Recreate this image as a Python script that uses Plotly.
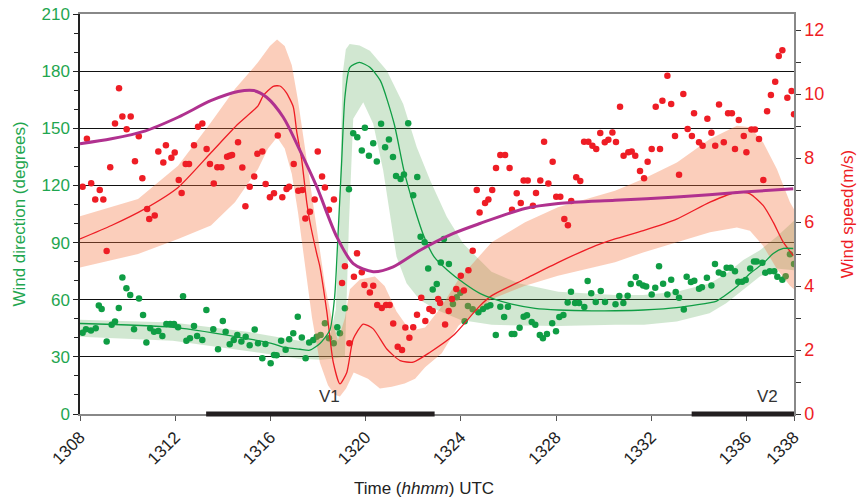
import plotly.graph_objects as go

# ---------------- data ----------------
# observed wind direction (degrees) vs time (hhmm, fractional minutes)
dir_t = [1308.11,1308.25,1308.46,1308.66,1308.79,1308.91,1309.12,1309.33,1309.47,1309.63,
         1309.78,1309.95,1310.11,1310.27,1310.48,1310.65,1310.79,1310.95,1311.11,1311.29,
         1311.46,1311.63,1311.79,1311.95,1312.12,1312.33,1312.47,1312.62,1312.79,1312.92,
         1313.14,1313.31,1313.60,1313.80,1314.00,1314.12,1314.29,1314.46,1314.61,1314.78,
         1314.96,1315.13,1315.34,1315.48,1315.66,1315.79,1316.01,1316.15,1316.26,1316.45,
         1316.64,1316.79,1316.96,1317.15,1317.32,1317.48,1317.63,1317.80,1317.95,1318.11,
         1318.29,1318.46,1318.66,1318.81,1318.92,1319.13,1319.30,1319.48,1319.65,1319.84,
         1319.97,1320.14,1320.32,1320.47,1320.65,1320.82,1320.98,1321.15,1321.28,1321.47,
         1321.61,1321.79,1322.00,1322.17,1322.31,1322.48,1322.63,1322.82,1322.99,1323.16,
         1323.29,1323.50,1323.67,1323.83,1323.98,1324.16,1324.30,1324.50,1324.74,1324.93,
         1325.10,1325.24,1325.47,1325.66,1325.82,1325.98,1326.14,1326.25,1326.47,1326.64,
         1326.78,1326.98,1327.13,1327.32,1327.45,1327.62,1327.84,1328.00,1328.14,1328.31,
         1328.49,1328.63,1328.80,1328.97,1329.19,1329.33,1329.48,1329.67,1329.88,1330.06,
         1330.50,1330.66,1330.83,1331.01,1331.14,1331.35,1331.50,1331.66,1331.79,1332.02,
         1332.17,1332.33,1332.50,1332.68,1332.84,1333.03,1333.17,1333.37,1333.49,1333.67,
         1333.81,1334.01,1334.13,1334.34,1334.53,1334.68,1334.84,1335.02,1335.17,1335.34,
         1335.52,1335.66,1335.82,1335.97,1336.16,1336.32,1336.43,1336.67,1336.79,1336.98,
         1337.17,1337.30,1337.51,1337.65,1337.83,1338.00]
dir_obs = [42.7,44.5,43.8,45.0,56.9,55.1,38.0,46.8,48.5,55.7,
           71.7,66.0,62.5,44.5,60.7,52.0,37.5,45.0,43.2,43.6,
           41.0,47.3,47.3,47.3,45.5,61.8,38.5,39.8,46.2,41.0,
           38.9,54.6,44.5,34.0,48.8,43.2,36.6,38.9,41.5,38.0,
           40.6,36.1,44.3,37.2,29.3,36.8,26.7,31.0,30.9,38.5,
           33.7,39.3,42.4,51.1,40.1,29.3,37.5,38.9,40.6,41.5,
           47.6,39.8,37.2,45.5,42.4,55.5,118.0,147.4,145.3,138.4,
           150.3,135.6,142.2,132.5,152.4,140.1,144.1,134.9,124.9,123.4,
           125.8,152.7,114.8,124.4,93.0,90.2,76.4,65.4,68.2,79.6,
           91.9,78.7,57.7,61.3,63.7,48.7,56.7,55.0,53.4,55.1,
           56.5,57.1,41.5,56.3,50.9,56.3,42.0,42.0,45.3,51.1,
           51.8,48.3,46.9,41.5,39.8,42.0,47.6,43.5,50.9,52.0,
           58.6,64.2,58.3,58.3,56.2,69.8,63.4,58.8,64.6,58.8,
           57.6,61.9,58.3,62.1,68.2,71.9,68.6,67.5,67.0,62.8,
           66.3,77.6,68.4,62.8,70.5,64.0,61.0,54.8,72.0,69.3,
           69.9,65.8,66.5,71.5,67.5,78.8,74.3,73.5,76.8,76.8,
           74.9,69.4,69.4,70.3,76.4,80.1,80.1,79.4,74.1,74.9,
           74.9,72.0,70.5,72.3,83.9,78.7]

# observed wind speed (m/s)
spd_t = [1308.11,1308.29,1308.47,1308.64,1308.83,1308.98,1309.12,1309.27,1309.47,1309.64,
         1309.78,1309.96,1310.13,1310.31,1310.47,1310.62,1310.82,1310.91,1311.14,1311.29,
         1311.50,1311.61,1311.84,1311.98,1312.15,1312.27,1312.44,1312.58,1312.79,1312.96,
         1313.14,1313.32,1313.46,1313.62,1313.77,1313.94,1314.18,1314.29,1314.39,1314.64,
         1314.82,1314.95,1315.13,1315.32,1315.45,1315.66,1315.80,1315.98,1316.15,1316.31,
         1316.50,1316.68,1316.79,1316.98,1317.17,1317.34,1317.47,1317.66,1317.86,1317.99,
         1318.17,1318.29,1318.46,1318.67,1319.01,1319.13,1319.32,1319.51,1319.64,1319.84,
         1319.95,1320.18,1320.32,1320.49,1320.68,1320.86,1321.01,1321.16,1321.35,1321.53,
         1321.67,1321.84,1322.00,1322.16,1322.34,1322.51,1322.68,1322.82,1323.05,1323.13,
         1323.34,1323.49,1323.63,1323.81,1324.00,1324.13,1324.32,1324.50,1324.67,1324.79,
         1325.02,1325.16,1325.32,1325.48,1325.66,1325.86,1326.05,1326.15,1326.35,1326.52,
         1326.64,1326.81,1327.03,1327.16,1327.34,1327.50,1327.68,1327.86,1328.01,1328.18,
         1328.35,1328.50,1328.64,1328.85,1329.02,1329.18,1329.36,1329.53,1329.69,1329.86,
         1330.05,1330.20,1330.37,1330.52,1330.69,1330.84,1331.04,1331.18,1331.33,1331.53,
         1331.70,1331.85,1332.02,1332.19,1332.37,1332.47,1332.68,1332.84,1333.00,1333.17,
         1333.35,1333.53,1333.71,1333.80,1334.01,1334.16,1334.36,1334.53,1334.69,1334.85,
         1335.05,1335.23,1335.39,1335.52,1335.68,1335.89,1336.00,1336.21,1336.36,1336.53,
         1336.71,1336.87,1337.03,1337.21,1337.36,1337.51,1337.72,1337.90,1338.00]
spd_obs = [7.10,8.60,7.21,6.70,7.00,6.70,5.09,7.71,9.08,10.18,
           9.30,8.90,9.30,7.90,8.68,7.37,6.41,6.09,6.20,8.20,
           7.86,8.40,8.01,8.17,7.31,6.91,7.81,7.81,8.40,8.98,
           9.08,8.28,7.81,7.20,7.71,7.71,8.04,8.07,8.09,8.49,
           7.70,6.49,7.10,7.42,8.13,8.20,7.19,6.77,6.90,8.70,
           6.77,7.03,7.10,7.81,6.98,7.00,6.11,6.32,6.70,8.20,
           7.42,7.08,6.38,6.70,4.09,4.62,2.21,4.29,5.02,4.43,
           4.03,3.80,4.01,3.41,3.31,3.41,3.41,2.83,2.10,2.00,
           2.70,2.38,2.71,3.10,3.63,2.91,3.28,3.22,3.59,3.47,
           2.80,3.22,3.59,3.91,4.32,3.86,4.49,5.10,7.00,6.30,
           6.59,6.70,7.00,7.69,8.09,8.09,7.69,6.38,6.90,6.59,
           7.30,7.30,6.51,6.91,7.30,8.51,7.20,7.88,6.79,6.79,
           6.09,5.90,6.66,7.40,7.28,8.51,8.51,8.38,8.28,8.78,
           8.49,8.57,8.80,8.50,9.60,8.07,8.18,8.20,8.07,7.59,
           7.37,7.88,8.28,9.60,8.28,9.79,10.57,9.69,8.69,7.48,
           10.00,8.91,8.69,9.40,8.49,8.38,9.23,8.79,8.38,9.67,
           8.49,9.40,9.40,8.28,9.19,8.69,8.18,8.89,8.89,8.59,
           7.31,9.46,9.97,10.38,11.19,11.37,9.88,10.09,9.37]

# modelled wind direction (degrees) and its uncertainty band
dir_fit_t = [1308.0,1311.91,1315.14,1316.19,1316.53,1317.24,1317.66,1318.08,1318.5,1318.7,
             1318.85,1318.99,1319.13,1319.34,1319.74,1320.18,1320.62,1321.2,1321.61,1322.04,
             1322.46,1322.88,1323.44,1324.14,1324.8,1325.44,1326.14,1327.12,1328.10,1329.50,
             1330.48,1331.67,1333.07,1334.75,1335.03,1335.59,1336.15,1336.71,1337.13,1337.55,
             1337.97]
dir_fit = [47.5,45.5,39.3,36.6,35.1,34.0,33.5,37.0,44.1,61.6,
           96.5,131.4,166.3,182.0,184.6,182.0,175.0,152.4,127.9,108.7,
           93.0,82.5,75.5,68.6,63.3,60.2,57.7,55.5,54.6,54.1,
           54.2,54.6,55.8,59.3,61.6,66.8,73.8,79.1,84.3,86.9,
           86.9]
dir_up_t = [1308.0,1311.9,1315.1,1317.2,1318.1,1318.5,1318.75,1318.93,1319.03,1319.17,
            1319.33,1319.75,1320.18,1320.89,1321.58,1322.15,1322.71,1323.41,1324.10,1324.80,
            1325.29,1326.42,1328.10,1330.48,1331.67,1333.07,1334.47,1335.17,1335.87,1336.57,
            1337.27,1338.0]
dir_up = [49.5,48.0,43.0,38.5,39.0,41.0,55.0,120.0,178.0,191.5,
          194.2,193.5,190.7,180.3,162.8,140.1,122.7,103.5,89.5,80.8,
          74.7,68.6,64.2,62.5,62.5,64.2,68.6,73.8,80.8,86.0,
          93.0,101.5]
dir_lo_t = [1308.0,1311.9,1315.48,1317.2,1318.1,1318.6,1319.13,1319.3,1319.48,1319.9,
            1320.32,1320.74,1321.02,1321.3,1321.72,1322.28,1323.0,1324.0,1325.3,1328.1,
            1330.5,1331.7,1333.07,1334.45,1335.15,1335.85,1336.55,1337.25,1338.0]
dir_lo = [40.5,38.5,32.3,29.0,28.5,29.0,30.0,100.0,155.0,163.7,
          152.4,127.9,105.2,82.5,68.6,59.8,54.6,49.4,46.8,46.2,
          46.8,46.8,48.5,52.9,58.1,65.1,72.0,76.4,75.5]

# modelled wind speed (m/s) and its uncertainty band
spd_fit_t = [1308.0,1309.32,1310.72,1312.12,1313.52,1314.64,1315.48,1315.70,1316.12,1316.40,
             1316.66,1316.96,1317.11,1317.31,1317.53,1317.66,1317.95,1318.08,1318.37,1318.64,
             1318.92,1319.21,1319.48,1319.90,1320.32,1320.89,1321.45,1322.00,1322.71,1323.68,
             1324.80,1325.30,1326.70,1328.10,1329.50,1330.48,1331.67,1333.07,1334.47,1335.59,
             1336.15,1336.71,1337.13,1337.55,1337.97]
spd_fit = [5.47,5.89,6.41,7.08,8.18,9.06,9.63,9.95,10.24,10.25,
           10.05,9.60,8.80,7.97,6.60,6.00,5.00,4.60,3.20,1.62,
           0.94,1.30,2.34,2.81,2.66,2.03,1.67,1.62,1.93,2.45,
           3.38,3.70,4.22,4.74,5.21,5.47,5.73,6.09,6.62,6.93,
           6.88,6.51,5.99,5.37,4.95]
spd_up_t = [1308.0,1310.44,1312.12,1313.5,1314.51,1315.48,1315.98,1316.28,1316.6,1316.9,
            1317.16,1317.45,1317.75,1318.0,1318.3,1318.6,1318.84,1319.13,1319.34,1319.76,
            1320.39,1320.8,1321.3,1321.87,1322.5,1323.13,1323.9,1325.3,1326.7,1328.08,
            1330.48,1331.66,1333.08,1334.47,1335.6,1336.15,1336.7,1337.28,1337.83,1338.0]
spd_up = [6.18,6.72,7.76,9.11,10.16,10.99,11.5,11.7,11.5,10.9,
          9.8,8.3,6.8,5.4,4.0,2.9,2.3,3.0,3.9,4.2,
          4.3,4.0,3.2,2.6,2.7,3.3,4.2,5.37,5.99,6.46,
          6.98,7.34,7.86,8.59,9.01,8.96,8.49,7.66,6.62,6.4]
spd_lo_t = [1308.0,1310.44,1312.12,1313.5,1314.51,1315.48,1315.9,1316.28,1316.6,1316.9,
            1317.16,1317.45,1317.75,1318.08,1318.42,1318.7,1318.92,1319.18,1319.5,1320.1,
            1320.6,1321.1,1321.64,1322.08,1322.5,1323.2,1323.9,1325.3,1326.7,1328.08,
            1330.48,1331.66,1333.08,1334.47,1335.6,1336.15,1336.7,1337.28,1337.83,1338.0]
spd_lo = [4.58,5.0,5.47,5.89,6.62,7.66,8.3,8.65,8.3,7.5,
          6.3,4.6,3.0,1.6,0.9,0.6,0.55,0.8,1.3,1.1,
          0.8,0.85,0.95,1.1,1.46,1.9,2.76,3.59,4.01,4.32,
          4.74,5.05,5.37,5.68,5.83,5.73,5.26,4.53,4.01,3.9]

# third model curve (degrees)
mag_t = [1308.0,1309.32,1310.72,1312.12,1313.52,1314.64,1315.30,1315.84,1316.54,1317.24,
         1317.95,1318.79,1319.48,1320.32,1321.16,1322.29,1323.69,1324.80,1326.70,1328.10,
         1330.48,1333.07,1335.87,1337.97]
mag = [141.9,144.5,148.5,155.8,164.6,169.3,169.8,166.3,155.8,138.4,
       119.2,93.0,79.0,74.7,77.3,86.0,94.8,100.0,107.9,110.5,
       112.2,113.9,116.5,118.3]

# vortex passage intervals
vortex_names = ["V1", "V2"]
vortex_start = [1313.3, 1333.7]
vortex_end = [1322.9, 1338.0]
vortex_label_t = [1318.5, 1336.9]

x_ticks = [1308, 1312, 1316, 1320, 1324, 1328, 1332, 1336, 1338]
dir_ticks = [0, 30, 60, 90, 120, 150, 180, 210]
spd_ticks = [0, 2, 4, 6, 8, 10, 12]

# ---------------- styles ----------------
GREEN = "#0f9d44"
GREEN_TXT = "#1fa650"
RED = "#ee1d25"
PURPLE = "#b0318f"
FONT = "Liberation Sans, Arial, sans-serif"

fig = go.Figure()

# green band (direction uncertainty)
fig.add_trace(go.Scatter(
    x=dir_up_t + dir_lo_t[::-1], y=dir_up + dir_lo[::-1],
    fill="toself", fillcolor="rgba(70,160,70,0.25)", line=dict(width=0),
    mode="lines", hoverinfo="skip", showlegend=False, yaxis="y"))
# green dots
fig.add_trace(go.Scatter(
    x=dir_t, y=dir_obs, mode="markers",
    marker=dict(color=GREEN, size=6.5), showlegend=False, yaxis="y"))

# orange band (speed uncertainty)
fig.add_trace(go.Scatter(
    x=spd_up_t + spd_lo_t[::-1], y=spd_up + spd_lo[::-1],
    fill="toself", fillcolor="rgba(244,118,66,0.36)", line=dict(width=0),
    mode="lines", hoverinfo="skip", showlegend=False, yaxis="y2"))
# red dots
fig.add_trace(go.Scatter(
    x=spd_t, y=spd_obs, mode="markers",
    marker=dict(color=RED, size=6.5), showlegend=False, yaxis="y2"))
# red model line
fig.add_trace(go.Scatter(
    x=spd_fit_t, y=spd_fit, mode="lines", line=dict(color=RED, width=1.3, shape="spline", smoothing=0.6),
    showlegend=False, yaxis="y2"))

# green model line and purple curve drawn on top (axis y3 mirrors y)
fig.add_trace(go.Scatter(
    x=dir_fit_t, y=dir_fit, mode="lines", line=dict(color=GREEN, width=1.3, shape="spline", smoothing=0.6),
    showlegend=False, yaxis="y3"))
fig.add_trace(go.Scatter(
    x=mag_t, y=mag, mode="lines", line=dict(color=PURPLE, width=3, shape="spline", smoothing=0.8),
    showlegend=False, yaxis="y3"))

shapes = []
annotations = []
for name, s, e, lt in zip(vortex_names, vortex_start, vortex_end, vortex_label_t):
    shapes.append(dict(type="line", xref="x", yref="paper", x0=s, x1=e, y0=0, y1=0,
                       line=dict(color="#231f20", width=5), layer="above"))
    annotations.append(dict(x=lt, y=0, xref="x", yref="y", text=name, showarrow=False,
                            yanchor="bottom", yshift=6, font=dict(family=FONT, size=17, color="#333")))

annotations.append(dict(x=0.482, y=0, xref="paper", yref="paper", yanchor="middle",
                        yshift=-74, text="Time (<i>hhmm</i>) UTC", showarrow=False,
                        font=dict(family=FONT, size=17, color="#222")))

fig.update_layout(
    width=860, height=500,
    margin=dict(l=80, r=66, t=14, b=86),
    paper_bgcolor="white", plot_bgcolor="white",
    font=dict(family=FONT, size=17),
    shapes=shapes, annotations=annotations,
    xaxis=dict(range=[1308, 1338], tickvals=x_ticks, ticktext=[str(v) for v in x_ticks],
               tickangle=-45, ticks="outside", ticklen=5, tickcolor="#555",
               showline=True, linecolor="#888", linewidth=1.5, mirror=True,
               showgrid=False, zeroline=False, automargin=False,
               tickfont=dict(size=17, color="#222")),
    yaxis=dict(range=[0, 210], tickvals=dir_ticks, ticks="outside", ticklen=5, tickcolor="#222",
               showline=True, linecolor="#222", linewidth=1.5,
               showgrid=True, gridcolor="#111", gridwidth=1, zeroline=False, automargin=False,
               minor=dict(dtick=10, ticks="outside", ticklen=4, tickcolor="#222", showgrid=False),
               tickfont=dict(size=17, color=GREEN_TXT),
               title=dict(text="Wind direction (degrees)", font=dict(size=17, color=GREEN_TXT), standoff=12)),
    yaxis2=dict(range=[0, 12.5], tickvals=spd_ticks, overlaying="y", side="right",
                ticks="outside", ticklen=5, tickcolor="#333",
                showline=True, linecolor="#888", linewidth=1.5,
                showgrid=False, zeroline=False, automargin=False,
                minor=dict(dtick=1, ticks="outside", ticklen=5, tickcolor="#333", showgrid=False),
                tickfont=dict(size=18, color=RED),
                title=dict(text="Wind speed(m/s)", font=dict(size=17, color=RED), standoff=18)),
    yaxis3=dict(range=[0, 210], overlaying="y", visible=False),
)

fig.write_html("out.html", config={"displayModeBar": False},
               post_script="document.body.style.margin='0px';")
